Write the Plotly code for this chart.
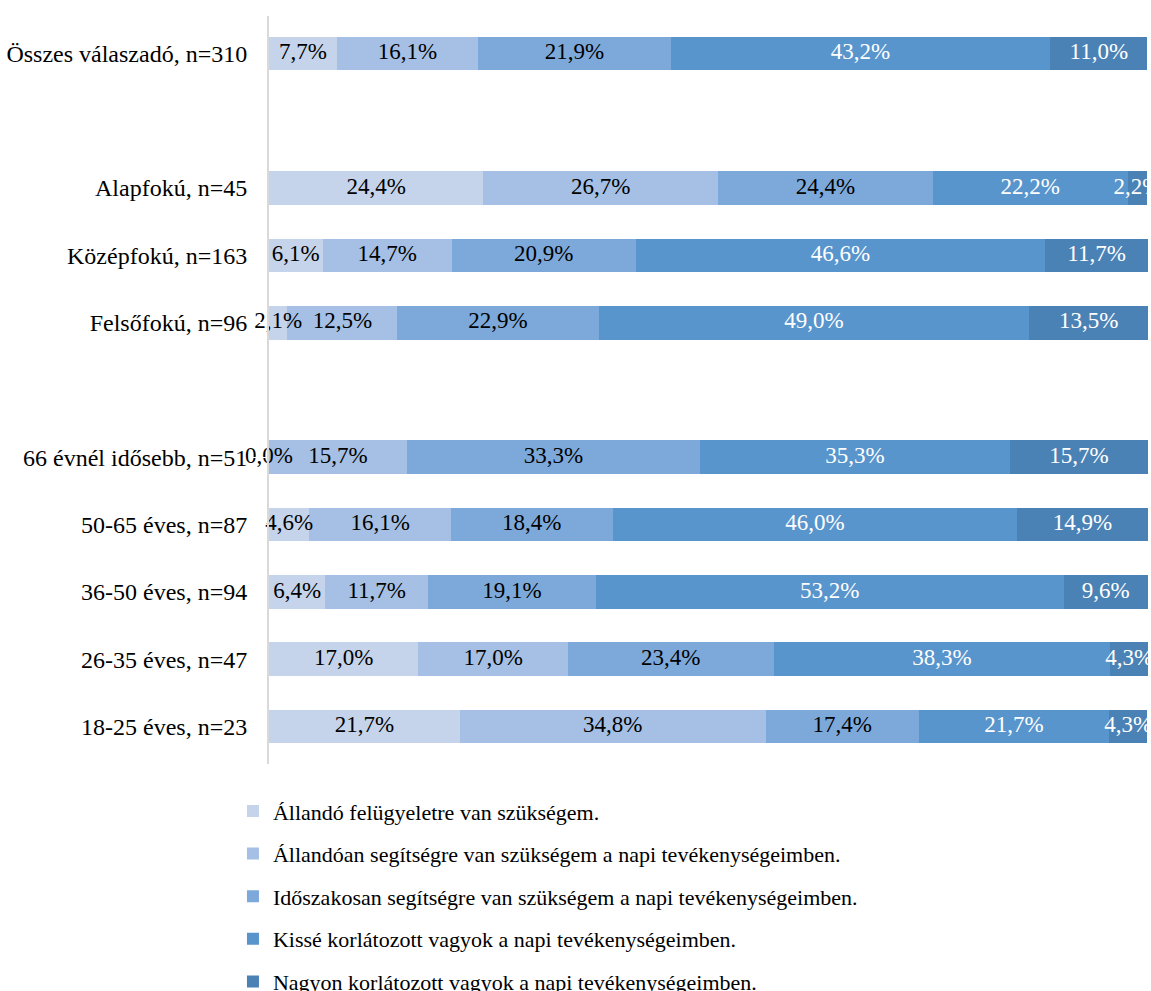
import plotly.graph_objects as go

categories = [
    "Összes válaszadó, n=310", " ",
    "Alapfokú, n=45", "Középfokú, n=163", "Felsőfokú, n=96", "  ",
    "66 évnél idősebb, n=51", "50-65 éves, n=87", "36-50 éves, n=94",
    "26-35 éves, n=47", "18-25 éves, n=23",
]

series_names = [
    "Állandó felügyeletre van szükségem.",
    "Állandóan segítségre van szükségem a napi tevékenységeimben.",
    "Időszakosan segítségre van szükségem a napi tevékenységeimben.",
    "Kissé korlátozott vagyok a napi tevékenységeimben.",
    "Nagyon korlátozott vagyok a napi tevékenységeimben.",
]

# None = empty spacer row
felugyelet = [7.7, None, 24.4, 6.1, 2.1, None, 0.0, 4.6, 6.4, 17.0, 21.7]
allando = [16.1, None, 26.7, 14.7, 12.5, None, 15.7, 16.1, 11.7, 17.0, 34.8]
idoszakos = [21.9, None, 24.4, 20.9, 22.9, None, 33.3, 18.4, 19.1, 23.4, 17.4]
kisse = [43.2, None, 22.2, 46.6, 49.0, None, 35.3, 46.0, 53.2, 38.3, 21.7]
nagyon = [11.0, None, 2.2, 11.7, 13.5, None, 15.7, 14.9, 9.6, 4.3, 4.3]

series_values = [felugyelet, allando, idoszakos, kisse, nagyon]
colors = ["#c5d4eb", "#a5c0e4", "#7da9da", "#5895cc", "#4b82b6"]
text_colors = ["black", "black", "black", "white", "white"]

FONT = "Liberation Serif, Times New Roman, serif"

fig = go.Figure()
for i, name in enumerate(series_names):
    fig.add_trace(go.Bar(
        y=categories, x=series_values[i], name=name, orientation="h",
        marker=dict(color=colors[i], line=dict(width=0)),
        legendgroup=str(i),
    ))

# data labels on top of all bars (like Excel), centred in each segment
base = [0.0 if v is not None else None for v in felugyelet]
for i, vals in enumerate(series_values):
    xs, ys, txt = [], [], []
    for j, v in enumerate(vals):
        if v is None:
            continue
        xs.append(base[j] + v / 2)
        ys.append(categories[j])
        txt.append(f"{v:.1f}%".replace(".", ","))
        base[j] += v
    fig.add_trace(go.Scatter(
        x=xs, y=ys, text=txt, mode="text", showlegend=False,
        textfont=dict(family=FONT, size=23, color=text_colors[i]),
        cliponaxis=False, hoverinfo="skip",
    ))

fig.update_layout(
    barmode="stack", bargap=0.5,
    width=1151, height=991,
    margin=dict(l=269, r=3, t=16, b=227, autoexpand=False),
    plot_bgcolor="white", paper_bgcolor="white",
    font=dict(family=FONT, size=24, color="black"),
    showlegend=True,
    legend=dict(
        x=-0.041, y=-0.035, xanchor="left", yanchor="top",
        orientation="v", traceorder="grouped", tracegroupgap=11,
        font=dict(family=FONT, size=22), itemwidth=30,
    ),
)
fig.update_xaxes(range=[0, 100], showgrid=False, showticklabels=False,
                 zeroline=False, showline=False, automargin=False)
fig.update_yaxes(categoryorder="array", categoryarray=categories,
                 autorange="reversed", showgrid=False, showline=True,
                 linecolor="#d9d9d9", linewidth=2, ticks="outside",
                 ticklen=15, tickcolor="white", zeroline=False,
                 automargin=False)

# drop the default 8px body margin so the figure fills the window exactly
fig.write_html("out.html",
               config={"displayModeBar": False},
               post_script="document.body.style.margin='0';"
                           "document.body.style.overflow='hidden';")
